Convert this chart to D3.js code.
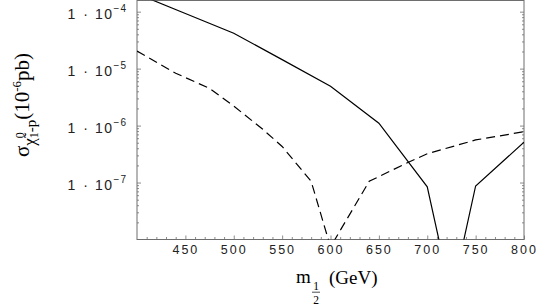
<!DOCTYPE html>
<html>
<head>
<meta charset="utf-8">
<script src="https://cdn.jsdelivr.net/npm/d3@7"></script>
<style>
  body { margin: 0; background: #fff; }
  svg { display: block; }
</style>
</head>
<body>
<div class="chart"></div>
<script>
// values
var m12 = [400, 450, 500, 550, 600, 650, 700, 725, 750, 800];
var sigmaSolid = [2.06e-4, 9.3e-5, 4.17e-5, 1.44e-5, 4.9e-6, 1.1e-6, 8.4e-8, 1e-9, 8.7e-8, 5.1e-7];

var m12Dashed = [400, 440, 475, 500, 530, 550, 580, 600, 640, 680, 700, 750, 800];
var sigmaDashed = [2.04e-5, 8.3e-6, 4.5e-6, 2.2e-6, 8.6e-7, 4.3e-7, 1.05e-7, 7.4e-9, 1.05e-7, 2.25e-7, 3.2e-7, 5.6e-7, 7.8e-7];

var xTicks = [450, 500, 550, 600, 650, 700, 750, 800];
var yTicks = [1e-7, 1e-6, 1e-5, 1e-4];
var yTickExp = ["-7", "-6", "-5", "-4"];

var width = 545,
  height = 308,
  frameColor = "#6e6e6e",
  tickFont = "'Liberation Sans', Arial, sans-serif",
  serif = "'Liberation Serif', 'Times New Roman', serif";

var svg = d3.select(".chart").append("svg")
  .attr("width", width)
  .attr("height", height);

var x = d3.scaleLinear()
  .domain([400, 800])
  .range([137, 524]);

var y = d3.scaleLog()
  .domain([1e-8, 1.57e-4])
  .range([239.5, 0.5]);

// minor ticks
var xMinor = d3.range(410, 800, 10).filter(function(d) { return d % 50 != 0; });
var yMinor = [];
[-8, -7, -6, -5, -4].forEach(function(e) {
  for (var k = 2; k <= 9; k++) {
    var v = k * Math.pow(10, e);
    if (v < 1.57e-4) yMinor.push(v);
  }
});

function styleAxis(g) {
  g.select(".domain").remove();
  g.selectAll(".tick line").attr("stroke", frameColor).attr("stroke-width", 0.8);
}

// bottom axis
svg.append("g")
  .attr("transform", "translate(0,239.5)")
  .call(d3.axisBottom(x).tickValues(xMinor).tickSize(-2.5).tickFormat(""))
  .call(styleAxis);

var xAxisG = svg.append("g")
  .attr("transform", "translate(0,239.5)")
  .call(d3.axisBottom(x).tickValues(xTicks).tickSize(-4).tickPadding(6))
  .call(styleAxis);

xAxisG.selectAll(".tick text")
  .attr("font-family", tickFont)
  .attr("font-size", "12.5px")
  .attr("letter-spacing", "2px")
  .attr("fill", "#222");

// left and right axes
svg.append("g")
  .attr("transform", "translate(137,0)")
  .call(d3.axisLeft(y).tickValues(yMinor).tickSize(-2).tickFormat(""))
  .call(styleAxis);

svg.append("g")
  .attr("transform", "translate(137,0)")
  .call(d3.axisLeft(y).tickValues(yTicks).tickSize(-4).tickFormat(""))
  .call(styleAxis);

svg.append("g")
  .attr("transform", "translate(524,0)")
  .call(d3.axisRight(y).tickValues(yMinor).tickSize(-2).tickFormat(""))
  .call(styleAxis);

svg.append("g")
  .attr("transform", "translate(524,0)")
  .call(d3.axisRight(y).tickValues(yTicks).tickSize(-4).tickFormat(""))
  .call(styleAxis);

// y tick labels "1 · 10^n"
var yLabels = svg.append("g").attr("class", "ylabels");
yTicks.forEach(function(d, i) {
  var t = yLabels.append("text")
    .attr("x", 127)
    .attr("y", y(d) + 7)
    .attr("text-anchor", "end")
    .attr("font-family", tickFont)
    .attr("font-size", "14px")
    .attr("fill", "#222");
  t.append("tspan").text("1").attr("letter-spacing", "8px");
  t.append("tspan").text("\u00b7").attr("letter-spacing", "7px");
  t.append("tspan").text("10").attr("letter-spacing", "1.5px");
  t.append("tspan")
    .attr("dy", -7)
    .attr("font-size", "10px")
    .attr("letter-spacing", "1px")
    .text("\u2212" + yTickExp[i].slice(1));
});

// frame
svg.append("rect")
  .attr("x", x(400))
  .attr("y", y(1.57e-4))
  .attr("width", x(800) - x(400))
  .attr("height", y(1e-8) - y(1.57e-4))
  .attr("fill", "none")
  .attr("stroke", frameColor)
  .attr("stroke-width", 1);

svg.append("clipPath")
  .attr("id", "plotclip")
  .append("rect")
  .attr("x", x(400))
  .attr("y", y(1.57e-4))
  .attr("width", x(800) - x(400))
  .attr("height", y(1e-8) - y(1.57e-4));

var line = d3.line()
  .x(function(d) { return x(d[0]); })
  .y(function(d) { return y(d[1]); });

var lines = svg.append("g").attr("clip-path", "url(#plotclip)");

lines.append("path")
  .datum(d3.zip(m12, sigmaSolid))
  .attr("d", line)
  .attr("fill", "none")
  .attr("stroke", "#000")
  .attr("stroke-width", 1.2);

lines.append("path")
  .datum(d3.zip(m12Dashed, sigmaDashed))
  .attr("d", line)
  .attr("fill", "none")
  .attr("stroke", "#000")
  .attr("stroke-width", 1.2)
  .attr("stroke-dasharray", "9,5");

// x axis title: m_{1/2} (GeV)
var xt = svg.append("g")
  .attr("font-family", serif)
  .attr("fill", "#000");
xt.append("text").attr("x", 296).attr("y", 283).attr("font-size", "19px").text("m");
xt.append("text").attr("x", 316).attr("y", 289.5).attr("font-size", "11.5px")
  .attr("text-anchor", "middle").text("1");
xt.append("line").attr("x1", 312).attr("x2", 320).attr("y1", 292.2).attr("y2", 292.2)
  .attr("stroke", "#000").attr("stroke-width", 0.7);
xt.append("text").attr("x", 316).attr("y", 303.5).attr("font-size", "11.5px")
  .attr("text-anchor", "middle").text("2");
xt.append("text").attr("x", 329).attr("y", 284).attr("font-size", "19px").text("(GeV)");

// y axis title: sigma_{chi^0_1 - p} (10^-6 pb)
var yt = svg.append("text")
  .attr("transform", "translate(29,105) rotate(-90)")
  .attr("text-anchor", "middle")
  .attr("font-family", serif)
  .attr("font-size", "21px")
  .attr("fill", "#000");
yt.append("tspan").text("\u03c3");
yt.append("tspan").attr("dy", 6).attr("font-size", "17px").text("\u03c7\u0303");
yt.append("tspan").attr("dy", -11).attr("font-size", "12px").text("0");
yt.append("tspan").attr("dx", -6).attr("dy", 14).attr("font-size", "12px").text("1");
yt.append("tspan").attr("dy", -2).attr("font-size", "15px").text("-p");
yt.append("tspan").attr("dy", -7).text("(10");
yt.append("tspan").attr("dy", -8).attr("font-size", "13px").text("-6");
yt.append("tspan").attr("dy", 8).text("pb)");
</script>
</body>
</html>
